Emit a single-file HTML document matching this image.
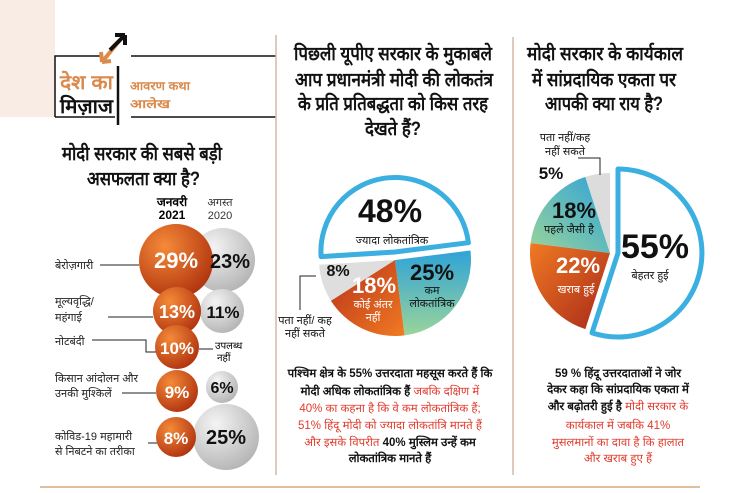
<!DOCTYPE html>
<html><head><meta charset="utf-8"><style>
html,body{margin:0;padding:0;background:#fff;}
svg{display:block;font-family:"Liberation Sans",sans-serif;}
.t{font-weight:bold;font-size:19px;fill:#111;}
.s{font-size:11px;fill:#222;}
.b{font-weight:bold;font-size:11.5px;fill:#111;text-anchor:middle;}
.r{font-size:11.5px;fill:#e03a2c;}
</style></head><body>
<svg width="741" height="493" viewBox="0 0 741 493">
<defs>
<radialGradient id="og" cx="35%" cy="30%" r="75%"><stop offset="0" stop-color="#f58a38"/><stop offset="1" stop-color="#b0330f"/></radialGradient>
<radialGradient id="gg" cx="35%" cy="30%" r="75%"><stop offset="0" stop-color="#f4f4f4"/><stop offset="1" stop-color="#b4b4b4"/></radialGradient>
<linearGradient id="tg" x1="0" y1="0" x2="0" y2="1"><stop offset="0" stop-color="#2fa3d8"/><stop offset="1" stop-color="#9ad49a"/></linearGradient>
<linearGradient id="tg2" x1="1" y1="0" x2="0" y2="1"><stop offset="0" stop-color="#2fa3d8"/><stop offset="1" stop-color="#9ad49a"/></linearGradient>
<linearGradient id="orl" x1="0" y1="0" x2="1" y2="1"><stop offset="0" stop-color="#b8321a"/><stop offset="1" stop-color="#f07a22"/></linearGradient>
<linearGradient id="orr" x1="0" y1="0" x2="1" y2="1"><stop offset="0" stop-color="#f07a22"/><stop offset="1" stop-color="#a8281a"/></linearGradient>
</defs>
<rect x="0" y="0" width="55" height="117" fill="#f8ece4"/>
<g stroke="#111" stroke-width="1.5" fill="none">
<path d="M55 117 V56 H103"/><path d="M131 56 H276"/>
<path d="M55 117 H115"/><path d="M131 117 H276"/>
<path d="M118 66 V125" stroke-width="2.5"/>
</g>
<path d="M102 62 L120 40" stroke="#d98a4c" stroke-width="4"/>
<path d="M102 62 L101 52 M102 62 L111 61" stroke="#d98a4c" stroke-width="4" fill="none"/>
<path d="M110 50 L125 35 M125 35 L115 35 M125 35 L125 45" stroke="#111" stroke-width="4" fill="none"/>
<text x="60" y="89" font-size="20" font-weight="bold" fill="#d98a4c" textLength="53" lengthAdjust="spacingAndGlyphs">देश का</text>
<text x="60" y="113" font-size="20" font-weight="bold" fill="#111" textLength="53" lengthAdjust="spacingAndGlyphs">मिज़ाज</text>
<text x="130" y="90" font-size="12" font-weight="bold" fill="#d98a4c" textLength="60" lengthAdjust="spacingAndGlyphs">आवरण कथा</text>
<text x="130" y="108" font-size="12" font-weight="bold" fill="#d98a4c" textLength="40" lengthAdjust="spacingAndGlyphs">आलेख</text>
<line x1="276" y1="35" x2="276" y2="475" stroke="#d6b9a6" stroke-width="1.5"/>
<line x1="513" y1="37" x2="513" y2="475" stroke="#d6b9a6" stroke-width="1.5"/>
<line x1="40" y1="487" x2="700" y2="487" stroke="#d9a882" stroke-width="1.5"/>
<text class="t" x="62" y="160" textLength="160" lengthAdjust="spacingAndGlyphs">मोदी सरकार की सबसे बड़ी</text>
<text class="t" x="87" y="185" textLength="113" lengthAdjust="spacingAndGlyphs">असफलता क्या है?</text>
<text x="172" y="206" font-size="12" font-weight="bold" text-anchor="middle">जनवरी</text>
<text x="172" y="219" font-size="12" font-weight="bold" text-anchor="middle">2021</text>
<text x="220" y="206" font-size="11" text-anchor="middle" fill="#333">अगस्त</text>
<text x="220" y="219" font-size="11" text-anchor="middle" fill="#333">2020</text>
<circle cx="223" cy="260" r="32" fill="url(#gg)"/>
<circle cx="222" cy="311" r="22" fill="url(#gg)"/>
<circle cx="222" cy="387" r="16" fill="url(#gg)"/>
<circle cx="226" cy="437" r="33" fill="url(#gg)"/>
<circle cx="176" cy="261" r="37" fill="url(#og)"/>
<circle cx="177" cy="311" r="24" fill="url(#og)"/>
<circle cx="177" cy="347" r="22" fill="url(#og)"/>
<circle cx="177" cy="391" r="21" fill="url(#og)"/>
<circle cx="176" cy="437" r="20" fill="url(#og)"/>
<g font-weight="bold" text-anchor="middle">
<text x="176" y="268" font-size="22" fill="#fff">29%</text>
<text x="230" y="268" font-size="20" fill="#111">23%</text>
<text x="177" y="318" font-size="18" fill="#fff">13%</text>
<text x="223" y="318" font-size="17" fill="#111">11%</text>
<text x="177" y="354" font-size="17" fill="#fff">10%</text>
<text x="177" y="398" font-size="17" fill="#fff">9%</text>
<text x="222" y="393" font-size="16" fill="#111">6%</text>
<text x="176" y="444" font-size="17" fill="#fff">8%</text>
<text x="226" y="444" font-size="20" fill="#111">25%</text>
</g>
<text x="215" y="349" font-size="10">उपलब्ध</text>
<text x="217" y="361" font-size="10">नहीं</text>
<g class="s">
<text x="55" y="269">बेरोज़गारी</text>
<text x="55" y="305">मूल्यवृद्धि/</text>
<text x="55" y="321">महंगाई</text>
<text x="55" y="345">नोटबंदी</text>
<text x="55" y="382">किसान आंदोलन और</text>
<text x="55" y="397">उनकी मुश्किलें</text>
<text x="55" y="440">कोविड-19 महामारी</text>
<text x="55" y="455">से निबटने का तरीका</text>
</g>
<g stroke="#222" stroke-width="1" fill="none">
<path d="M100 265 H139"/><path d="M108 317 H153"/><path d="M92 340 H146 V352 H156"/>
<path d="M122 393 H156"/><path d="M148 443 H157"/><path d="M199 349 H213"/>
</g>
<text class="t" x="294" y="60" textLength="198" lengthAdjust="spacingAndGlyphs">पिछली यूपीए सरकार के मुकाबले</text>
<text class="t" x="295" y="86" textLength="198" lengthAdjust="spacingAndGlyphs">आप प्रधानमंत्री मोदी की लोकतंत्र</text>
<text class="t" x="298" y="110" textLength="190" lengthAdjust="spacingAndGlyphs">के प्रति प्रतिबद्धता को किस तरह</text>
<text class="t" x="365" y="135" textLength="56" lengthAdjust="spacingAndGlyphs">देखते हैं?</text>
<path d="M395 260 L470.4 250.5 A76 76 0 0 1 404.5 335.4 Z" fill="url(#tg)"/>
<path d="M395 260 L404.5 335.4 A76 76 0 0 1 330.9 300.7 Z" fill="url(#orl)"/>
<path d="M395 260 L330.9 300.7 A76 76 0 0 1 319.2 264.8 Z" fill="#dedede"/>
<path d="M395 252 L321.1 256.6 A74 74 0 0 1 468.4 242.7 Z" fill="#fff" stroke="#3bb0e0" stroke-width="5" stroke-linejoin="round"/>
<g font-weight="bold" text-anchor="middle">
<text x="390" y="222" font-size="32" fill="#111">48%</text>
<text x="338" y="276" font-size="16" fill="#111">8%</text>
<text x="374" y="293" font-size="22" fill="#fff">18%</text>
<text x="432" y="280" font-size="22" fill="#111">25%</text>
</g>
<g font-size="11" text-anchor="middle">
<text x="392" y="244" fill="#111">ज्यादा लोकतांत्रिक</text>
<text x="373" y="308" fill="#fff">कोई अंतर</text>
<text x="373" y="321" fill="#fff">नहीं</text>
<text x="432" y="294" fill="#111">कम</text>
<text x="432" y="307" fill="#111">लोकतांत्रिक</text>
<text x="305" y="324" fill="#111">पता नहीं/ कह</text>
<text x="305" y="337" fill="#111">नहीं सकते</text>
</g>
<path d="M316 276 H300 V310" stroke="#222" fill="none"/>
<text class="t" x="527" y="60" textLength="156" lengthAdjust="spacingAndGlyphs">मोदी सरकार के कार्यकाल</text>
<text class="t" x="532" y="86" textLength="144" lengthAdjust="spacingAndGlyphs">में सांप्रदायिक एकता पर</text>
<text class="t" x="545" y="110" textLength="118" lengthAdjust="spacingAndGlyphs">आपकी क्या राय है?</text>
<path d="M610 253 L585.3 329.1 A80 80 0 0 1 530.6 243 Z" fill="url(#orr)"/>
<path d="M610 253 L530.6 243 A80 80 0 0 1 585.3 176.9 Z" fill="url(#tg2)"/>
<path d="M610 253 L585.3 176.9 A80 80 0 0 1 610 173 Z" fill="#dcdcdc"/>
<path d="M618 253 L618 169 A84 84 0 1 1 592 332.9 Z" fill="#fff" stroke="#3bb0e0" stroke-width="5" stroke-linejoin="round"/>
<g font-weight="bold" text-anchor="middle">
<text x="551" y="179" font-size="17" fill="#111">5%</text>
<text x="574" y="218" font-size="22" fill="#111">18%</text>
<text x="578" y="273" font-size="22" fill="#fff">22%</text>
<text x="655" y="258" font-size="34" fill="#111">55%</text>
</g>
<g font-size="11" text-anchor="middle">
<text x="565" y="141" fill="#111">पता नहीं/कह</text>
<text x="565" y="155" fill="#111">नहीं सकते</text>
<text x="569" y="233" fill="#111">पहले जैसी है</text>
<text x="576" y="293" fill="#fff">खराब हुई</text>
<text x="650" y="279" fill="#111">बेहतर हुई</text>
</g>
<path d="M578 158 H600 V175" stroke="#222" fill="none"/>
<text class="b" x="390" y="377">पश्चिम क्षेत्र के 55% उत्तरदाता महसूस करते हैं कि</text>
<text x="390" y="395" text-anchor="middle" font-size="11.5"><tspan font-weight="bold" fill="#111">मोदी अधिक लोकतांत्रिक हैं</tspan><tspan fill="#e03a2c"> जबकि दक्षिण में</tspan></text>
<text class="r" x="390" y="412" text-anchor="middle">40% का कहना है कि वे कम लोकतांत्रिक हैं;</text>
<text class="r" x="390" y="429" text-anchor="middle">51% हिंदू मोदी को ज्यादा लोकतांत्रि मानते हैं</text>
<text x="390" y="446" text-anchor="middle" font-size="11.5"><tspan fill="#e03a2c">और इसके विपरीत </tspan><tspan font-weight="bold" fill="#111">40% मुस्लिम उन्हें कम</tspan></text>
<text class="b" x="390" y="462">लोकतांत्रिक मानते हैं</text>
<text class="b" x="618" y="377">59 % हिंदू उत्तरदाताओं ने जोर</text>
<text class="b" x="618" y="393">देकर कहा कि सांप्रदायिक एकता में</text>
<text x="618" y="410" text-anchor="middle" font-size="11.5"><tspan font-weight="bold" fill="#111">और बढ़ोतरी हुई है</tspan><tspan fill="#e03a2c"> मोदी सरकार के</tspan></text>
<text class="r" x="618" y="429" text-anchor="middle">कार्यकाल में जबकि 41%</text>
<text class="r" x="618" y="446" text-anchor="middle">मुसलमानों का दावा है कि हालात</text>
<text class="r" x="618" y="462" text-anchor="middle">और खराब हुए हैं</text>
</svg>
</body></html>
